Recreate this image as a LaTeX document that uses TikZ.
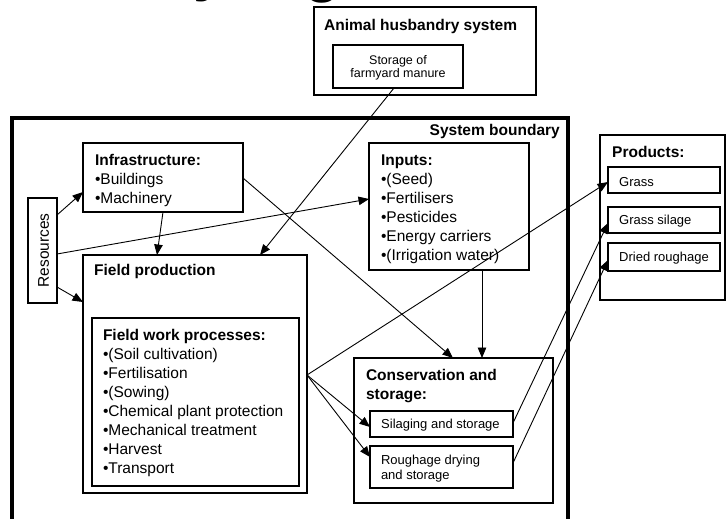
\documentclass[tikz,border=0pt]{standalone}
\usepackage{fontspec}
\setmainfont{Liberation Sans}
\usetikzlibrary{arrows.meta,calc}

% rectangle node from its corner coordinates: style, name, x1, y1, x2, y2
\newcommand\boxnode[6]{%
  \node[#1,minimum width={#5-#3},minimum height={#6-#4}] (#2) at ({(#3+#5)/2},{(#4+#6)/2}) {};}

\begin{document}
\begin{tikzpicture}[x=1pt,y=-1pt,
  thickbox/.style={draw,line width=2.6pt,inner sep=0pt,outer sep=0pt},
  thinbox/.style={draw,line width=1.1pt,inner sep=0pt,outer sep=0pt},
  txt/.style={inner sep=0pt,outer sep=0pt,align=left,anchor=north west,font=\fontsize{15.5}{19}\selectfont},
  smalltxt/.style={inner sep=0pt,outer sep=0pt,align=left,anchor=north west,font=\fontsize{13}{15}\selectfont},
  conn/.style={line width=0.9pt,-{Triangle[length=10.5pt,width=8.5pt]}}]

\useasboundingbox (0,0) rectangle (728,519);

% descenders of the heading cut off by the top edge
\node[anchor=base west,inner sep=0pt,font=\fontsize{60}{60}\selectfont\bfseries] (headY) at (193,-10) {y};
\node[anchor=base west,inner sep=0pt,font=\fontsize{60}{60}\selectfont\bfseries] (headG) at (304,-9.5) {g};

% system boundary (open towards the bottom)
\draw[line width=4pt] (12,525) -- (12,118) -- (568,118) -- (568,525);
\node[inner sep=0pt,anchor=base east,font=\fontsize{15.5}{19}\selectfont\bfseries] (sysb) at (560,135) {System boundary};

% animal husbandry system
\boxnode{thickbox}{animal}{314}{7}{536}{95}
\node[inner sep=0pt,anchor=base west,font=\fontsize{15.5}{19}\selectfont\bfseries] (animalT) at (324,31) {Animal husbandry system};
\boxnode{thinbox}{storage}{333}{45}{463}{88}
\node[inner sep=0pt,align=center,font=\fontsize{12.5}{13}\selectfont] (storageT) at (398,68) {Storage of\\farmyard manure};

% infrastructure (text boxes hang from the top of a strut: baseline - 13.3)
\boxnode{thickbox}{infra}{83}{143}{243}{212}
\node[txt] (infraT) at (95,151.7) {\strut\textbf{Infrastructure:}\\•Buildings\\•Machinery};

% inputs
\boxnode{thickbox}{inputs}{369}{143}{529}{270}
\node[txt] (inputsT) at (381,151.7) {\strut\textbf{Inputs:}\\•(Seed)\\•Fertilisers\\•Pesticides\\•Energy carriers\\•(Irrigation water)};

% resources
\boxnode{thinbox}{res}{28}{198}{57}{303}
\node[inner sep=0pt,rotate=90,font=\fontsize{15.5}{19}\selectfont] (resT) at (43.5,250.5) {Resources};

% field production
\boxnode{thickbox}{field}{83}{255}{307}{493}
\node[inner sep=0pt,anchor=base west,font=\fontsize{15.5}{19}\selectfont\bfseries] (fieldT) at (94,275) {Field production};
\boxnode{thickbox}{fwp}{92}{318}{299}{486}
\node[txt] (fwpT) at (103,326.7) {\strut\textbf{Field work processes:}\\•(Soil cultivation)\\•Fertilisation\\•(Sowing)\\•Chemical plant protection\\•Mechanical treatment\\•Harvest\\•Transport};

% conservation and storage
\boxnode{thickbox}{cons}{354}{358}{553}{503}
\node[txt] (consT) at (366,366.7) {\strut\textbf{Conservation and}\\\textbf{storage:}};
\boxnode{thinbox}{silage}{370}{411}{513}{437}
\node[inner sep=0pt,anchor=base west,font=\fontsize{13}{15}\selectfont] (silageT) at (381,428.5) {Silaging and storage};
\boxnode{thinbox}{rough}{370}{446}{513}{488}
\node[smalltxt] (roughT) at (381,454) {\strut Roughage drying\\and storage};

% products
\boxnode{thickbox}{prod}{600}{135}{725}{300}
\node[inner sep=0pt,anchor=base west,font=\fontsize{15.5}{19}\selectfont\bfseries] (prodT) at (612,157) {Products:};
\boxnode{thinbox}{grass}{608}{167}{720}{193}
\node[inner sep=0pt,anchor=base west,font=\fontsize{13}{15}\selectfont] (grassT) at (619,186.5) {Grass};
\boxnode{thinbox}{gsil}{608}{207}{720}{233}
\node[inner sep=0pt,anchor=base west,font=\fontsize{13}{15}\selectfont] (gsilT) at (619,224.5) {Grass silage};
\boxnode{thinbox}{dried}{608}{243}{720}{271}
\node[inner sep=0pt,anchor=base west,font=\fontsize{13}{15}\selectfont] (driedT) at (619,261.5) {Dried roughage};

% connectors
\draw[conn] (storage.south -| 394,0) -- (field.north -| 260,0);
\draw[conn] (res.east |- 0,215) -- (infra.west |- 0,192);
\draw[conn] (res.east |- 0,254) -- (inputs.west |- 0,199);
\draw[conn] (res.east |- 0,287) -- (field.west |- 0,302);
\draw[conn] (infra.south -| 163,0) -- (field.north -| 157,0);
\draw[conn] (infra.east |- 0,178) -- (cons.north -| 453,0);
\draw[conn] (inputs.south -| 482,0) -- (cons.north -| 482,0);
\draw[conn] (field.east |- 0,375) -- (grass.west |- 0,182);
\draw[conn] (field.east |- 0,375) -- (silage.west |- 0,427);
\draw[conn] (field.east |- 0,375) -- (rough.west |- 0,457);
\draw[conn] (silage.east |- 0,423) -- (gsil.west |- 0,223);
\draw[conn] (rough.east |- 0,463) -- (dried.west |- 0,260);
\end{tikzpicture}
\end{document}
